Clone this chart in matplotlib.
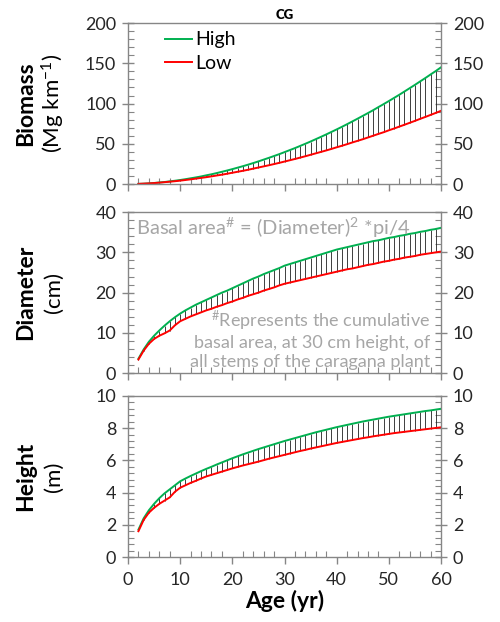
import numpy as np
import matplotlib
matplotlib.use("Agg")
import matplotlib.pyplot as plt
from matplotlib.ticker import MultipleLocator

plt.rcParams['font.family'] = ['Lato', 'DejaVu Sans']
plt.rcParams['mathtext.fontset'] = 'custom'
plt.rcParams['mathtext.rm'] = 'Lato'
plt.rcParams['mathtext.it'] = 'Lato:italic'
plt.rcParams['mathtext.bf'] = 'Lato:bold'

age = list(range(2, 61))

biomass_high = [0.3, 0.5, 0.9, 1.4, 2.0, 2.6, 3.4, 4.2, 5.1, 6.1, 7.2, 8.3, 9.5, 10.9,
                12.2, 13.7, 15.3, 16.9, 18.6, 20.4, 22.2, 24.1, 26.1, 28.2, 30.4, 32.6,
                34.9, 37.2, 39.7, 42.2, 44.7, 47.4, 50.1, 52.9, 55.8, 58.7, 61.7, 64.8,
                67.9, 71.1, 74.4, 77.8, 81.2, 84.7, 88.2, 91.8, 95.6, 99.3, 103.1, 107.0,
                110.9, 115.0, 119.1, 123.2, 127.5, 131.7, 136.1, 140.4, 145.0]
biomass_low = [0.3, 0.6, 0.9, 1.3, 1.8, 2.4, 3.0, 3.6, 4.3, 5.1, 5.9, 6.8, 7.7, 8.6,
               9.6, 10.7, 11.7, 12.9, 14.1, 15.3, 16.5, 17.8, 19.2, 20.6, 22.0, 23.4,
               24.9, 26.4, 28.0, 29.6, 31.2, 32.9, 34.6, 36.4, 38.2, 40.0, 41.8, 43.7,
               45.7, 47.6, 49.6, 51.7, 53.7, 55.7, 57.9, 60.1, 62.3, 64.4, 66.8, 69.0,
               71.4, 73.7, 76.1, 78.5, 81.0, 83.4, 85.9, 88.4, 91.0]

diameter_high = [3.6, 5.9, 7.8, 9.3, 10.6, 11.8, 12.9, 13.9, 14.8, 15.6, 16.3, 17.0, 17.6,
                 18.2, 18.8, 19.4, 20.0, 20.5, 21.1, 21.7, 22.3, 22.9, 23.5, 24.0, 24.6,
                 25.1, 25.6, 26.1, 26.7, 27.1, 27.5, 27.9, 28.3, 28.7, 29.1, 29.5, 29.9,
                 30.3, 30.7, 31.0, 31.3, 31.6, 31.9, 32.2, 32.5, 32.8, 33.0, 33.3, 33.6,
                 33.8, 34.1, 34.3, 34.6, 34.8, 35.1, 35.3, 35.6, 35.8, 36.1]
diameter_low = [3.4, 5.6, 7.3, 8.5, 9.3, 9.9, 10.6, 11.9, 12.9, 13.5, 14.1, 14.6, 15.1,
                15.6, 16.0, 16.5, 16.9, 17.4, 17.8, 18.3, 18.7, 19.2, 19.6, 20.0, 20.5,
                20.9, 21.3, 21.8, 22.2, 22.5, 22.8, 23.1, 23.4, 23.7, 24.0, 24.3, 24.6,
                24.9, 25.2, 25.5, 25.8, 26.0, 26.3, 26.6, 26.9, 27.1, 27.4, 27.7, 27.9,
                28.2, 28.4, 28.7, 28.9, 29.1, 29.4, 29.6, 29.8, 30.0, 30.2]

height_high = [1.7, 2.4, 2.9, 3.3, 3.65, 3.95, 4.2, 4.45, 4.7, 4.87, 5.03, 5.18, 5.33,
               5.47, 5.6, 5.74, 5.87, 6.0, 6.13, 6.25, 6.37, 6.48, 6.59, 6.7, 6.8, 6.9,
               7.0, 7.1, 7.2, 7.29, 7.38, 7.47, 7.56, 7.65, 7.74, 7.82, 7.9, 7.98, 8.06,
               8.13, 8.2, 8.27, 8.34, 8.41, 8.47, 8.53, 8.59, 8.65, 8.71, 8.76, 8.81,
               8.86, 8.91, 8.96, 9.01, 9.06, 9.1, 9.15, 9.2]
height_low = [1.6, 2.3, 2.75, 3.05, 3.3, 3.5, 3.7, 4.05, 4.3, 4.45, 4.6, 4.73, 4.87,
              5.0, 5.1, 5.2, 5.3, 5.4, 5.5, 5.59, 5.68, 5.76, 5.84, 5.92, 6.01, 6.1,
              6.18, 6.26, 6.34, 6.42, 6.5, 6.58, 6.65, 6.73, 6.8, 6.87, 6.94, 7.01,
              7.08, 7.14, 7.2, 7.26, 7.32, 7.38, 7.43, 7.49, 7.54, 7.59, 7.64, 7.69,
              7.73, 7.77, 7.81, 7.85, 7.89, 7.93, 7.97, 8.01, 8.05]

GREEN = '#00b050'
RED = '#ff0000'
GRAY = '#868686'
TXT = '#262626'

fig = plt.figure(figsize=(5, 6.22), dpi=100)

panels = [
    # bottom, ymax, major, minor, label, unit, high, low
    (0.704, 200, 50, 10, 'Biomass', '(Mg km$^{-1}$)', biomass_high, biomass_low),
    (0.400, 40, 10, 2, 'Diameter', '(cm)', diameter_high, diameter_low),
    (0.1045, 10, 2, 0.4, 'Height', '(m)', height_high, height_low),
]

axes = []
for bottom, ymax, major, minor, lab, unit, hi, lo in panels:
    ax = fig.add_axes([0.256, bottom, 0.626, 0.259])
    ax.vlines(age, lo, hi, color='#202020', lw=0.6)
    ax.plot(age, hi, color=GREEN, lw=1.4, label='High')
    ax.plot(age, lo, color=RED, lw=1.4, label='Low')
    ax.set_xlim(0, 60)
    ax.set_ylim(0, ymax)
    ax.xaxis.set_major_locator(MultipleLocator(10))
    ax.xaxis.set_minor_locator(MultipleLocator(2))
    ax.yaxis.set_major_locator(MultipleLocator(major))
    ax.yaxis.set_minor_locator(MultipleLocator(minor))
    for s in ax.spines.values():
        s.set_color(GRAY)
        s.set_linewidth(1.0)
    ax.tick_params(axis='y', which='major', direction='inout', length=9, width=1,
                   color=GRAY, left=True, right=True, labelleft=True, labelright=True,
                   labelsize=13, labelcolor=TXT, pad=4)
    ax.tick_params(axis='y', which='minor', direction='in', length=4, width=0.8,
                   color=GRAY, left=True, right=True)
    ax.tick_params(axis='x', which='major', direction='out', length=5, width=1,
                   color=GRAY, top=False, labelsize=13, labelcolor=TXT, pad=6)
    ax.tick_params(axis='x', which='minor', direction='in', length=4, width=0.8,
                   color=GRAY, top=False)
    ax.text(-0.326, 0.5, lab, transform=ax.transAxes, rotation=90, ha='center',
            va='center', fontsize=16.5, fontweight='bold', color='black')
    ax.text(-0.238, 0.5, unit, transform=ax.transAxes, rotation=90, ha='center',
            va='center', fontsize=16, color='black')
    axes.append(ax)

axes[0].tick_params(axis='x', labelbottom=False)
axes[1].tick_params(axis='x', labelbottom=False)
axes[2].set_xlabel('Age (yr)', fontsize=16.5, fontweight='bold', labelpad=1)

axes[0].set_title('CG', fontsize=9.5, fontweight='heavy', pad=3)
axes[0].legend(loc='upper left', bbox_to_anchor=(0.08, 1.02), frameon=False,
               fontsize=14, handlelength=1.4, handletextpad=0.15, labelspacing=0.35,
               borderaxespad=0.2)

note_color = '#a6a6a6'
axes[1].text(0.025, 0.9, r'Basal area$^{\#}$ = (Diameter)$^{2}$ *pi/4',
             transform=axes[1].transAxes, fontsize=14.5, color=note_color,
             ha='left', va='center')
axes[1].text(0.965, 0.21,
             '$^{\\#}$Represents the cumulative\nbasal area, at 30 cm height, of\nall stems of the caragana plant',
             transform=axes[1].transAxes, fontsize=13, color=note_color,
             ha='right', va='center', multialignment='right', linespacing=1.2)

fig.savefig('out.png', dpi=100)
